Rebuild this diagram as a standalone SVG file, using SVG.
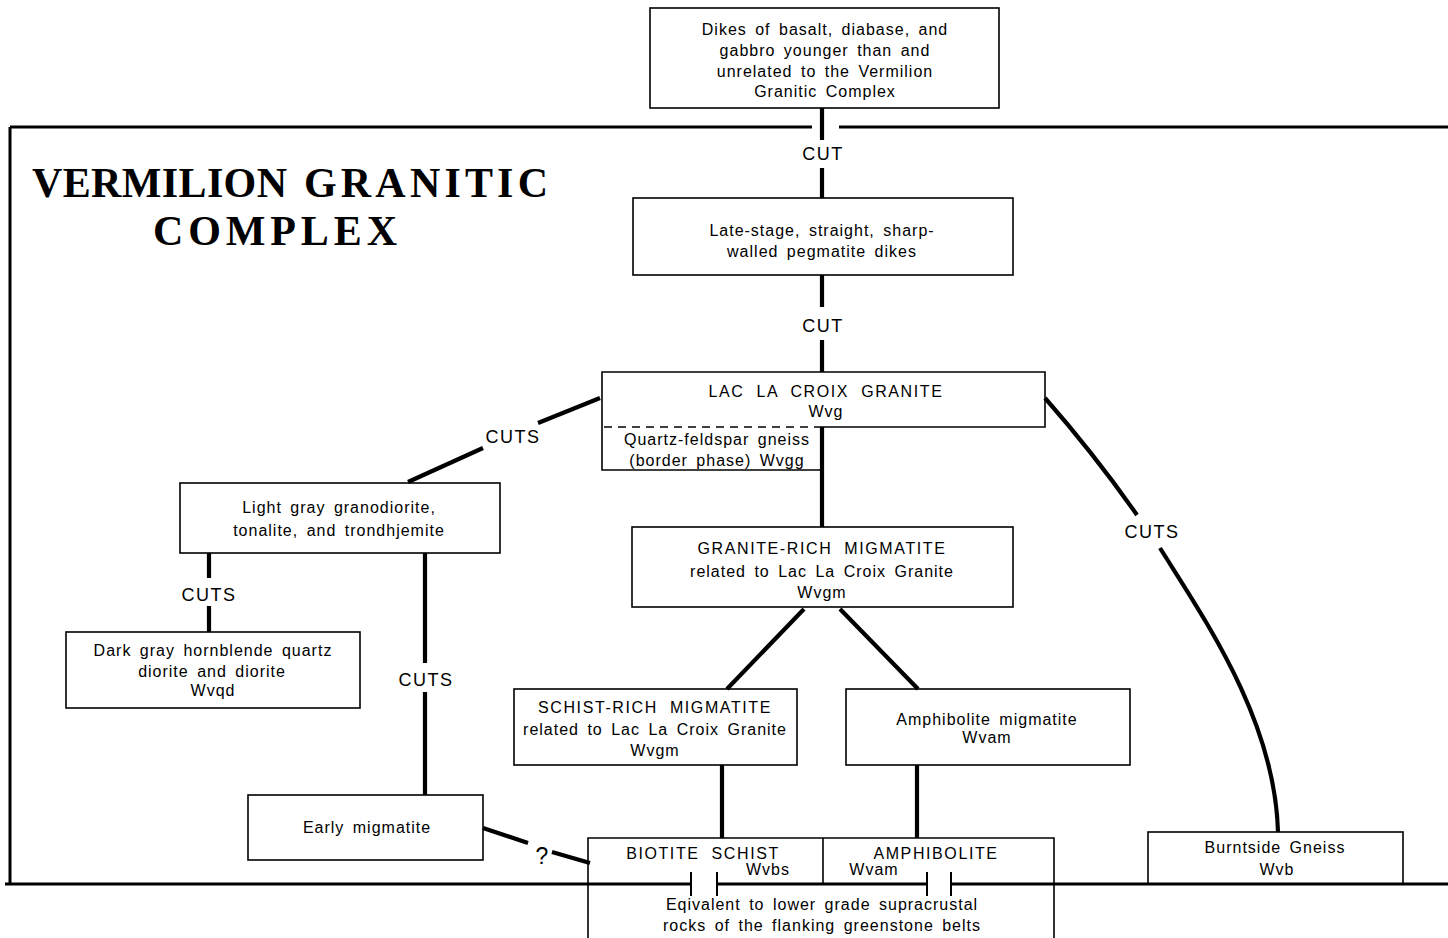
<svg xmlns="http://www.w3.org/2000/svg" width="1448" height="938" viewBox="0 0 1448 938">
<style>
.box{fill:#fff;stroke:#000;stroke-width:1.6}
.edge{fill:none;stroke:#000;stroke-width:1.6}
.dash{fill:none;stroke:#000;stroke-width:1.6;stroke-dasharray:8 6}
.conn{fill:none;stroke:#000;stroke-width:4.2}
.frame{fill:none;stroke:#000;stroke-width:3}
.tick{fill:none;stroke:#000;stroke-width:2}
.t{font-family:"Liberation Sans",Arial,sans-serif;font-size:16px;letter-spacing:1px;word-spacing:3px;text-anchor:middle;fill:#000}
.c{font-family:"Liberation Sans",Arial,sans-serif;font-size:16px;letter-spacing:1.6px;word-spacing:6px;text-anchor:middle;fill:#000}
.lbl{font-family:"Liberation Sans",Arial,sans-serif;font-size:18px;letter-spacing:1.5px;text-anchor:middle;fill:#000}
.q{font-family:"Liberation Sans",Arial,sans-serif;font-size:23px;text-anchor:middle;fill:#000}
.title{font-family:"Liberation Serif","Times New Roman",serif;font-size:42px;font-weight:bold;fill:#000}
</style>
<rect width="1448" height="938" fill="#fff"/>

<g id="title">
<text class="title" x="32" y="197" textLength="255" lengthAdjust="spacing">VERMILION</text>
<text class="title" x="304" y="197" textLength="244" lengthAdjust="spacing">GRANITIC</text>
<text class="title" x="153" y="245" textLength="244" lengthAdjust="spacing">COMPLEX</text>
</g>

<g id="node-dikes">
<rect class="box" x="650" y="8" width="349" height="100"/>
<text class="t" x="825" y="35">Dikes of basalt, diabase, and</text>
<text class="t" x="825" y="56">gabbro younger than and</text>
<text class="t" x="825" y="77">unrelated to the Vermilion</text>
<text class="t" x="825" y="97">Granitic Complex</text>
</g>

<g id="node-pegmatite">
<rect class="box" x="633" y="198" width="380" height="77"/>
<text class="t" x="822" y="236">Late-stage, straight, sharp-</text>
<text class="t" x="822" y="257">walled pegmatite dikes</text>
</g>

<g id="node-laclacroix">
<rect x="602" y="372" width="443" height="55" fill="#fff"/>
<path class="edge" d="M822,427 H1045 V372 H602 V427"/>
<text class="c" x="826" y="397">LAC LA CROIX GRANITE</text>
<text class="t" x="826" y="417">Wvg</text>
</g>

<g id="node-border-phase">
<path class="edge" d="M602,427 V470 H822"/>
<path class="dash" d="M604,427 H822"/>
<text class="t" x="717" y="445">Quartz-feldspar gneiss</text>
<text class="t" x="717" y="466">(border phase) Wvgg</text>
</g>

<g id="node-lightgray">
<rect class="box" x="180" y="483" width="320" height="70"/>
<text class="t" x="339" y="513">Light gray granodiorite,</text>
<text class="t" x="339" y="536">tonalite, and trondhjemite</text>
</g>

<g id="node-darkgray">
<rect class="box" x="66" y="632" width="294" height="76"/>
<text class="t" x="213" y="656">Dark gray hornblende quartz</text>
<text class="t" x="212" y="677">diorite and diorite</text>
<text class="t" x="213" y="696">Wvqd</text>
</g>

<g id="node-early">
<rect class="box" x="248" y="795" width="235" height="65"/>
<text class="t" x="367" y="833">Early migmatite</text>
</g>

<g id="node-granite-rich">
<rect class="box" x="632" y="527" width="381" height="80"/>
<text class="c" x="822" y="554">GRANITE-RICH MIGMATITE</text>
<text class="t" x="822" y="577">related to Lac La Croix Granite</text>
<text class="t" x="822" y="598">Wvgm</text>
</g>

<g id="node-schist-rich">
<rect class="box" x="514" y="689" width="283" height="76"/>
<text class="c" x="655" y="713">SCHIST-RICH MIGMATITE</text>
<text class="t" x="655" y="735">related to Lac La Croix Granite</text>
<text class="t" x="655" y="756">Wvgm</text>
</g>

<g id="node-amph-migmatite">
<rect class="box" x="846" y="689" width="284" height="76"/>
<text class="t" x="987" y="725">Amphibolite migmatite</text>
<text class="t" x="987" y="743">Wvam</text>
</g>

<g id="node-supracrustal">
<path class="edge" d="M588,938 V838 H1054 V938"/>
<path class="edge" d="M823,838 V883"/>
<text class="c" x="703" y="859">BIOTITE SCHIST</text>
<text class="t" x="768" y="875">Wvbs</text>
<text class="c" x="936" y="859">AMPHIBOLITE</text>
<text class="t" x="874" y="875">Wvam</text>
<text class="t" x="822" y="910">Eqivalent to lower grade supracrustal</text>
<text class="t" x="822" y="931">rocks of the flanking greenstone belts</text>
</g>

<g id="node-burntside">
<rect class="box" x="1148" y="832" width="255" height="52"/>
<text class="t" x="1275" y="853">Burntside Gneiss</text>
<text class="t" x="1277" y="875">Wvb</text>
</g>

<g id="frame">
<path class="frame" d="M10,127 H812 M839,127 H1448 M10,127 V885 M5,884 H691 M717,884 H927 M951,884 H1448"/>
<path class="tick" d="M691,872 V896 M717,872 V896 M927,872 V896 M951,872 V896"/>
</g>

<g id="connectors">
<path class="conn" d="M822,108 V140 M822,168 V198"/>
<path class="conn" d="M822,275 V307 M822,340 V372"/>
<path class="conn" d="M822,427 V527"/>
<path class="conn" d="M600,398 L538,423 M483,448 L408,482"/>
<path class="conn" d="M209,553 V578 M209,606 V632"/>
<path class="conn" d="M425,553 V663 M425,692 V795"/>
<path class="conn" d="M804,609 L727,689 M840,609 L918,689"/>
<path class="conn" d="M722,765 V838 M917,765 V838"/>
<path class="conn" d="M483,828 L528,843 M552,852 L590,863"/>
<path class="conn" d="M1045,398 Q1095,455 1137,515"/>
<path class="conn" d="M1160,548 C1205,620 1275,720 1278,832"/>
<text class="lbl" x="823" y="160">CUT</text>
<text class="lbl" x="823" y="332">CUT</text>
<text class="lbl" x="513" y="443">CUTS</text>
<text class="lbl" x="209" y="601">CUTS</text>
<text class="lbl" x="426" y="686">CUTS</text>
<text class="lbl" x="1152" y="538">CUTS</text>
<text class="q" x="542" y="864">?</text>
</g>
</svg>
